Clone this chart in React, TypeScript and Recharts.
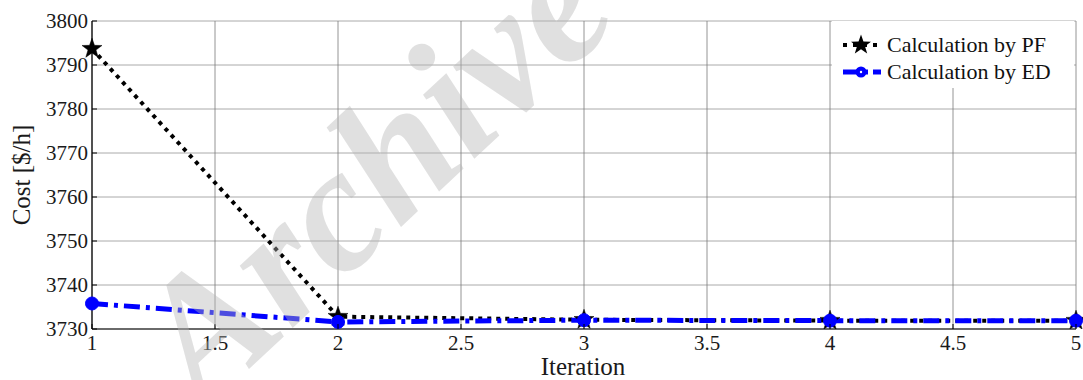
import React from "react";
import { LineChart, Line, XAxis, YAxis, CartesianGrid } from "recharts";

const iterations = [1, 2, 3, 4, 5];
const pfCost = [3793.7, 3732.8, 3732.1, 3731.9, 3731.9];
const edCost = [3735.8, 3731.6, 3732.0, 3731.9, 3731.9];
const xTicks = [1, 1.5, 2, 2.5, 3, 3.5, 4, 4.5, 5];
const yTicks = [3730, 3740, 3750, 3760, 3770, 3780, 3790, 3800];
const seriesNames = ["Calculation by PF", "Calculation by ED"];

const data = iterations.map((it, i) => ({ it, pf: pfCost[i], ed: edCost[i] }));

const FONT = "Liberation Serif, Times New Roman, serif";

function starPoints(cx: number, cy: number, R: number, r: number) {
  const pts: string[] = [];
  for (let k = 0; k < 10; k++) {
    const a = -Math.PI / 2 + (k * Math.PI) / 5;
    const rad = k % 2 === 0 ? R : r;
    pts.push(`${cx + rad * Math.cos(a)},${cy + rad * Math.sin(a)}`);
  }
  return pts.join(" ");
}

const StarDot = (props: any) => {
  const { cx, cy } = props;
  if (cx == null || cy == null) return null;
  return <polygon points={starPoints(cx, cy, 10.5, 4.2)} fill="#000" stroke="#000" strokeWidth={0.5} />;
};

const CircleDot = (props: any) => {
  const { cx, cy } = props;
  if (cx == null || cy == null) return null;
  return <circle cx={cx} cy={cy} r={6.5} fill="#0000ff" stroke="#0000ff" strokeWidth={1} />;
};

const BottomTick = (props: any) => {
  const { x, y, payload } = props;
  return (
    <g>
      <line x1={x} y1={y} x2={x} y2={y - 5} stroke="#000" strokeWidth={1} />
      <text x={x} y={y + 21} textAnchor="middle" style={{ fontFamily: FONT }} fontSize={21} fill="#1a1a1a">
        {payload.value}
      </text>
    </g>
  );
};

const TopTick = (props: any) => {
  const { x, y } = props;
  return <line x1={x} y1={y} x2={x} y2={y + 5} stroke="#000" strokeWidth={1} />;
};

const LeftTick = (props: any) => {
  const { x, y, payload } = props;
  return (
    <g>
      <line x1={x} y1={y} x2={x + 5} y2={y} stroke="#000" strokeWidth={1} />
      <text x={x - 4} y={y + 7} textAnchor="end" style={{ fontFamily: FONT }} fontSize={21} fill="#1a1a1a">
        {payload.value}
      </text>
    </g>
  );
};

const RightTick = (props: any) => {
  const { x, y } = props;
  return <line x1={x} y1={y} x2={x - 5} y2={y} stroke="#000" strokeWidth={1} />;
};

export default function App() {
  return (
    <div style={{ position: "absolute", left: 0, top: 0, width: 1083, height: 380, background: "#fff", fontFamily: FONT }}>
      <LineChart
        width={1083}
        height={380}
        data={data}
        margin={{ top: 21, right: 7, bottom: 0, left: 0 }}
        style={{ fontFamily: FONT }}
      >
        <CartesianGrid xAxisId="b" yAxisId="l" horizontal={true} vertical={false} stroke="#aaaaaa" strokeWidth={1} />
        <CartesianGrid xAxisId="b" yAxisId="l" horizontal={false} vertical={true} stroke="#7a7a7a" strokeWidth={0.8} />
        <XAxis
          xAxisId="b"
          dataKey="it"
          type="number"
          domain={[1, 5]}
          ticks={xTicks}
          interval={0}
          height={51}
          tickSize={0}
          tickMargin={0}
          tickLine={false}
          axisLine={{ stroke: "#000", strokeWidth: 1.2 }}
          tick={<BottomTick />}
        />
        <XAxis
          xAxisId="t"
          orientation="top"
          dataKey="it"
          type="number"
          domain={[1, 5]}
          ticks={xTicks}
          interval={0}
          height={0}
          tickSize={0}
          tickMargin={0}
          tickLine={false}
          axisLine={{ stroke: "#000", strokeWidth: 1.2 }}
          tick={<TopTick />}
        />
        <YAxis
          yAxisId="l"
          type="number"
          domain={[3730, 3800]}
          ticks={yTicks}
          interval={0}
          width={92}
          tickSize={0}
          tickMargin={0}
          tickLine={false}
          axisLine={{ stroke: "#000", strokeWidth: 1.2 }}
          tick={<LeftTick />}
          allowDataOverflow
        />
        <YAxis
          yAxisId="r"
          orientation="right"
          type="number"
          domain={[3730, 3800]}
          ticks={yTicks}
          interval={0}
          width={0}
          tickSize={0}
          tickMargin={0}
          tickLine={false}
          axisLine={{ stroke: "#000", strokeWidth: 1.2 }}
          tick={<RightTick />}
          allowDataOverflow
        />
        <Line
          xAxisId="b"
          yAxisId="l"
          type="linear"
          dataKey="pf"
          name={seriesNames[0]}
          stroke="#000"
          strokeWidth={4}
          strokeDasharray="4 5"
          dot={<StarDot />}
          activeDot={false}
          isAnimationActive={false}
        />
        <Line
          xAxisId="b"
          yAxisId="l"
          type="linear"
          dataKey="ed"
          name={seriesNames[1]}
          stroke="#0000ff"
          strokeWidth={5}
          strokeDasharray="16 6 4 6"
          dot={<CircleDot />}
          activeDot={false}
          isAnimationActive={false}
        />
      </LineChart>

      <svg width={1083} height={380} style={{ position: "absolute", left: 0, top: 0, pointerEvents: "none" }}>
        <text x={583} y={375} textAnchor="middle" style={{ fontFamily: FONT }} fontSize={25} fill="#1a1a1a">
          Iteration
        </text>
        <text
          x={0}
          y={0}
          transform="translate(30,175) rotate(-90)"
          textAnchor="middle"
          style={{ fontFamily: FONT }}
          fontSize={25}
          fill="#1a1a1a"
        >
          Cost [$/h]
        </text>
        {/* legend */}
        <rect x={832} y={21} width={242} height={67} fill="#fff" />
        <line x1={843} y1={45} x2={880} y2={45} stroke="#000" strokeWidth={4} strokeDasharray="4 6" />
        <polygon points={starPoints(861, 45, 10.5, 4.2)} fill="#000" />
        <text x={887} y={52} style={{ fontFamily: FONT }} fontSize={22} fill="#111">
          {seriesNames[0]}
        </text>
        <line x1={843} y1={72} x2={868} y2={72} stroke="#0000ff" strokeWidth={5} />
        <line x1={873} y1={72} x2={881} y2={72} stroke="#0000ff" strokeWidth={5} />
        <circle cx={861} cy={72} r={5.5} fill="#0000ff" />
        <circle cx={861} cy={72} r={1.2} fill="#fff" />
        <text x={887} y={79} style={{ fontFamily: FONT }} fontSize={22} fill="#111">
          {seriesNames[1]}
        </text>
        {/* watermark */}
        <text
          x={0}
          y={0}
          transform="translate(372,172) rotate(-43)"
          textAnchor="middle"
          dominantBaseline="central"
          style={{ fontFamily: FONT }}
          fontWeight="bold"
          fontStyle="italic"
          fontSize={178}
          fill="#b4b4b4"
          fillOpacity={0.42}
        >
          Archive
        </text>
      </svg>
    </div>
  );
}
